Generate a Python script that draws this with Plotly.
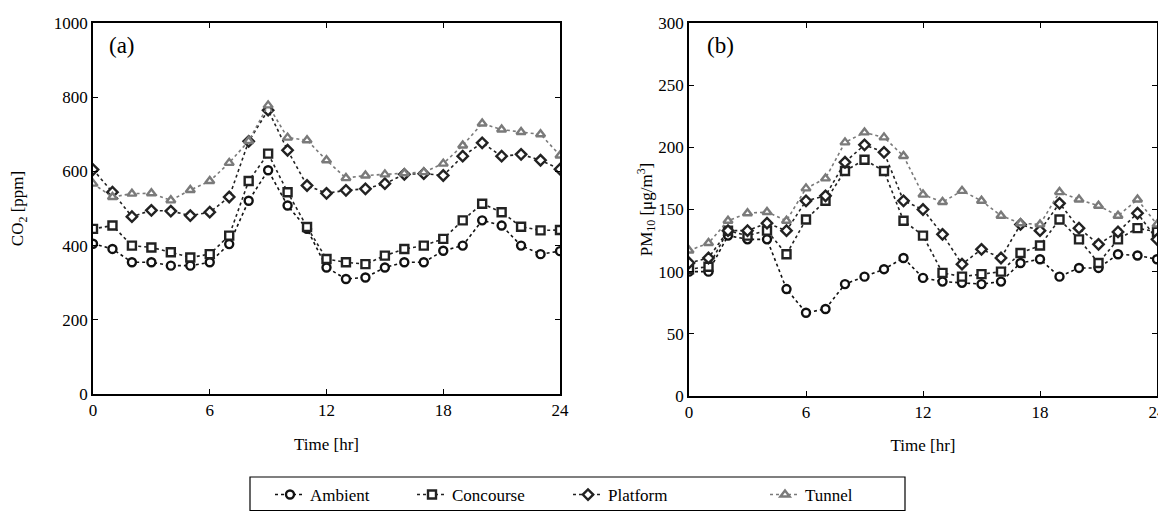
import plotly.graph_objects as go

hours = list(range(25))

co2_ambient = [405, 391, 355, 355, 346, 346, 355, 404, 521, 603, 508, 445, 341, 310, 314,
               341, 355, 355, 386, 400, 468, 454, 400, 377, 385]
co2_concourse = [445, 454, 400, 395, 382, 368, 377, 427, 574, 648, 544, 450, 364, 355, 350,
                 373, 391, 400, 418, 468, 513, 490, 451, 441, 442]
co2_platform = [605, 544, 478, 495, 493, 481, 490, 531, 681, 765, 657, 562, 541, 549, 553,
                567, 592, 594, 589, 641, 677, 641, 646, 630, 606]
co2_tunnel = [567, 531, 540, 541, 522, 550, 574, 623, 682, 778, 691, 684, 630, 582, 589,
              592, 595, 598, 621, 670, 729, 713, 706, 700, 643]

pm_ambient = [100, 100, 129, 126, 126, 86, 67, 70, 90, 96, 102, 111, 95, 92, 91,
              90, 92, 107, 110, 96, 103, 103, 114, 113, 110]
pm_concourse = [102, 104, 133, 129, 133, 114, 142, 157, 181, 190, 181, 141, 129, 99, 96,
                98, 100, 115, 121, 142, 126, 107, 126, 135, 132]
pm_platform = [107, 111, 133, 133, 139, 133, 157, 161, 188, 202, 196, 157, 150, 130, 106,
               118, 111, 138, 133, 155, 135, 122, 132, 147, 126]
pm_tunnel = [117, 123, 141, 147, 148, 141, 167, 175, 204, 212, 208, 193, 162, 156, 165,
             157, 145, 139, 138, 164, 158, 153, 145, 158, 138]

series_names = ["Ambient", "Concourse", "Platform", "Tunnel"]
x_ticks = [0, 6, 12, 18, 24]
co2_ticks = [0, 200, 400, 600, 800, 1000]
pm_ticks = [0, 50, 100, 150, 200, 250, 300]

styles = {
    "Ambient": dict(symbol="circle", color="#111111"),
    "Concourse": dict(symbol="square", color="#222222"),
    "Platform": dict(symbol="diamond", color="#222222"),
    "Tunnel": dict(symbol="triangle-up", color="#7a7a7a"),
}
legend_ids = {"Ambient": "legend", "Concourse": "legend2", "Platform": "legend3", "Tunnel": "legend4"}
# legend item left edges in window pixels
legend_px = {"Ambient": 270, "Concourse": 412, "Platform": 568, "Tunnel": 765}

# page body has an 8px margin; figure is sized so the page does not overflow the window
OFF = 8
W, H = 1166 - OFF, 520 - 2 * OFF
FONT = "Liberation Serif"
FS = 17
fig = go.Figure()

def add(name, y, xa, ya, show):
    s = styles[name]
    fig.add_trace(go.Scatter(
        x=hours, y=y, name=name, mode="lines+markers", xaxis=xa, yaxis=ya,
        showlegend=show, legendgroup=name, legend=legend_ids[name],
        line=dict(color=s["color"], width=1.6, dash="dot"),
        marker=dict(symbol=s["symbol"], size=8, color="white",
                    line=dict(color=s["color"], width=2.4)),
    ))

for name, y in zip(series_names, [co2_ambient, co2_concourse, co2_platform, co2_tunnel]):
    add(name, y, "x", "y", True)
for name, y in zip(series_names, [pm_ambient, pm_concourse, pm_platform, pm_tunnel]):
    add(name, y, "x2", "y2", False)

axis_common = dict(showgrid=False, zeroline=False, showline=True, linecolor="black",
                   linewidth=1.5, mirror="ticks", ticks="inside", ticklen=5,
                   tickcolor="black", automargin=False, ticklabeloverflow="allow",
                   tickfont=dict(family=FONT, size=FS, color="black"))

def fx(px):
    return (px - OFF) / W

def fy(py):
    return 1 - (py - OFF) / H

legend_layout = {}
for name in series_names:
    legend_layout[legend_ids[name]] = dict(
        orientation="h", x=fx(legend_px[name]), xanchor="left", y=fy(495), yanchor="middle",
        borderwidth=0, bgcolor="rgba(0,0,0,0)",
        font=dict(family=FONT, size=FS, color="black"))

fig.update_layout(
    width=W, height=H,
    margin=dict(l=0, r=0, t=0, b=0, autoexpand=False),
    paper_bgcolor="white", plot_bgcolor="white",
    font=dict(family=FONT, size=FS, color="black"),
    xaxis=dict(domain=[fx(93), fx(560)], range=[0, 24], tickvals=x_ticks,
               title=dict(text="Time [hr]", font=dict(family=FONT, size=FS), standoff=19),
               anchor="y", **axis_common),
    yaxis=dict(domain=[fy(394), fy(23)], range=[0, 1000], tickvals=co2_ticks,
               title=dict(text="CO<sub>2</sub> [ppm]", font=dict(family=FONT, size=FS), standoff=26),
               anchor="x", **axis_common),
    xaxis2=dict(domain=[fx(689), fx(1157)], range=[0, 24], tickvals=x_ticks,
                title=dict(text="Time [hr]", font=dict(family=FONT, size=FS), standoff=18),
                anchor="y2", **axis_common),
    yaxis2=dict(domain=[fy(396), fy(23)], range=[0, 300], tickvals=pm_ticks,
                title=dict(text="PM<sub>10</sub> [μg/m<sup>3</sup>]", font=dict(family=FONT, size=FS), standoff=0),
                anchor="x2", **axis_common),
    shapes=[dict(type="rect", xref="paper", yref="paper",
                 x0=fx(250), x1=fx(905), y0=fy(510.5), y1=fy(477),
                 line=dict(color="black", width=1.2), fillcolor="rgba(0,0,0,0)")],
    annotations=[
        dict(text="(a)", x=0.03, y=0.94, xref="x domain", yref="y domain",
             xanchor="left", yanchor="middle", showarrow=False, font=dict(family=FONT, size=23)),
        dict(text="(b)", x=0.035, y=0.94, xref="x2 domain", yref="y2 domain",
             xanchor="left", yanchor="middle", showarrow=False, font=dict(family=FONT, size=23)),
    ],
    **legend_layout,
)

fig.write_html("out.html")
